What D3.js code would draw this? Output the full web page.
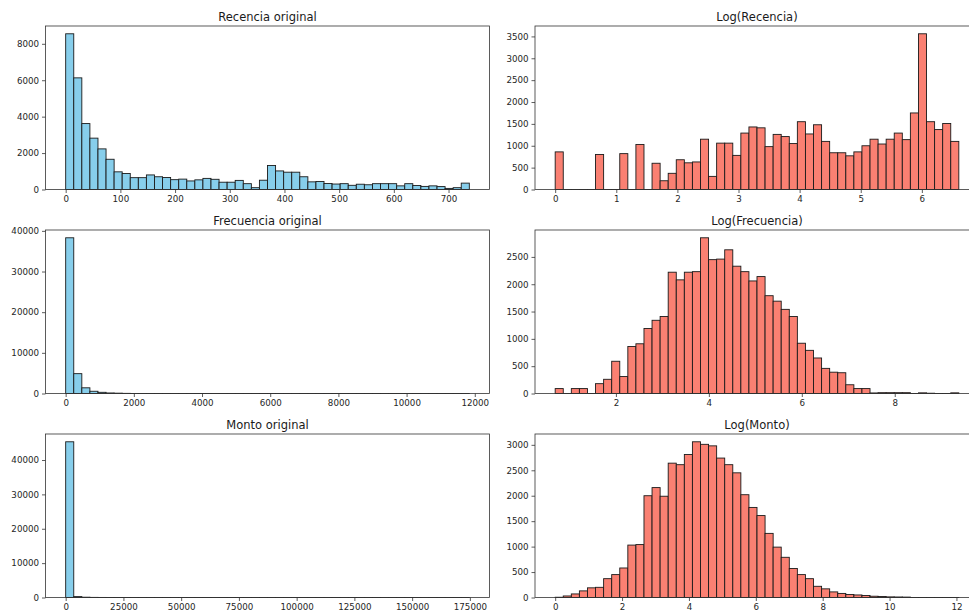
<!DOCTYPE html>
<html>
<head>
<meta charset="utf-8">
<script src="https://cdn.jsdelivr.net/npm/d3@7"></script>
<style>
  html, body { margin: 0; padding: 0; background: #fff; }
  svg { display: block; }
  text { font-family: "DejaVu Sans", sans-serif; }
</style>
</head>
<body>
<svg id="chart" width="969" height="611"></svg>
<script>
// Histogram counts (50 bins each) and the value range each histogram spans
const recenciaCounts = [8550, 6130, 3620, 2820, 2230, 1660, 970, 880, 650, 650,
  800, 700, 660, 540, 570, 470, 530, 610, 560, 400,
  400, 500, 320, 100, 510, 1320, 1020, 950, 950, 700,
  420, 440, 330, 300, 320, 230, 290, 260, 320, 320,
  320, 200, 320, 220, 170, 200, 160, 60, 100, 350];
const recenciaRange = [0, 738];

const logRecenciaCounts = [860, 0, 0, 0, 0, 800, 0, 0, 820, 0,
  1030, 0, 600, 200, 370, 680, 610, 630, 1150, 300,
  1060, 1060, 780, 1290, 1430, 1410, 980, 1260, 1210, 1050,
  1550, 1270, 1480, 1100, 840, 840, 770, 860, 1000, 1150,
  1040, 1150, 1290, 1140, 1750, 3560, 1550, 1370, 1510, 1100];
const logRecenciaRange = [0, 6.605];

const frecuenciaCounts = [38300, 4880, 1400, 550, 290, 130, 80, 35, 12, 9,
  9, 9, 9, 9, 8, 0, 0, 0, 0, 0,
  0, 3, 3, 3, 3, 1, 1, 1, 1, 1,
  0, 0, 0, 0, 0, 0, 0, 0, 0, 0,
  0, 0, 2, 1, 2, 1, 2, 1, 2, 1];
const frecuenciaRange = [1, 11840];

const logFrecuenciaCounts = [90, 0, 90, 90, 0, 180, 260, 590, 310, 860,
  910, 1190, 1340, 1410, 2220, 2080, 2220, 2230, 2850, 2450,
  2460, 2630, 2330, 2230, 2060, 2140, 1790, 1690, 1540, 1410,
  920, 790, 650, 460, 390, 380, 160, 90, 90, 10,
  15, 15, 15, 15, 0, 12, 5, 0, 0, 12];
const logFrecuenciaRange = [0.693, 9.379];

const montoCounts = [45300, 260, 86, 33, 17, 13, 6, 5, 5, 4,
  3, 3, 0, 0, 0, 0, 0, 0, 0, 0,
  0, 0, 0, 0, 0, 0, 0, 0, 0, 0,
  0, 0, 0, 0, 0, 0, 0, 0, 0, 0,
  0, 0, 0, 0, 0, 0, 0, 0, 0, 1];
const montoRange = [0, 174760];

const logMontoCounts = [5, 30, 70, 130, 190, 200, 370, 450, 580, 1030,
  1040, 2000, 2160, 1990, 2640, 2610, 2810, 3060, 3010, 2980,
  2740, 2610, 2450, 2020, 1770, 1610, 1260, 990, 790, 570,
  450, 370, 220, 170, 110, 80, 60, 50, 40, 25,
  20, 12, 10, 8, 0, 0, 0, 0, 0, 1];
const logMontoRange = [0, 12.071];

// Tick values
const recenciaXTicks = [0, 100, 200, 300, 400, 500, 600, 700];
const recenciaYTicks = [0, 2000, 4000, 6000, 8000];
const logRecenciaXTicks = [0, 1, 2, 3, 4, 5, 6];
const logRecenciaYTicks = [0, 500, 1000, 1500, 2000, 2500, 3000, 3500];
const frecuenciaXTicks = [0, 2000, 4000, 6000, 8000, 10000, 12000];
const frecuenciaYTicks = [0, 10000, 20000, 30000, 40000];
const logFrecuenciaXTicks = [2, 4, 6, 8];
const logFrecuenciaYTicks = [0, 500, 1000, 1500, 2000, 2500];
const montoXTicks = [0, 25000, 50000, 75000, 100000, 125000, 150000, 175000];
const montoYTicks = [0, 10000, 20000, 30000, 40000];
const logMontoXTicks = [0, 2, 4, 6, 8, 10, 12];
const logMontoYTicks = [0, 500, 1000, 1500, 2000, 2500, 3000];

const titles = ["Recencia original", "Log(Recencia)", "Frecuencia original",
                "Log(Frecuencia)", "Monto original", "Log(Monto)"];

const originalColor = "#87ceeb";
const logColor = "#fa8072";

const panels = [
  { title: titles[0], counts: recenciaCounts, range: recenciaRange, xt: recenciaXTicks, yt: recenciaYTicks, color: originalColor, row: 0, col: 0 },
  { title: titles[1], counts: logRecenciaCounts, range: logRecenciaRange, xt: logRecenciaXTicks, yt: logRecenciaYTicks, color: logColor, row: 0, col: 1 },
  { title: titles[2], counts: frecuenciaCounts, range: frecuenciaRange, xt: frecuenciaXTicks, yt: frecuenciaYTicks, color: originalColor, row: 1, col: 0 },
  { title: titles[3], counts: logFrecuenciaCounts, range: logFrecuenciaRange, xt: logFrecuenciaXTicks, yt: logFrecuenciaYTicks, color: logColor, row: 1, col: 1 },
  { title: titles[4], counts: montoCounts, range: montoRange, xt: montoXTicks, yt: montoYTicks, color: originalColor, row: 2, col: 0 },
  { title: titles[5], counts: logMontoCounts, range: logMontoRange, xt: logMontoXTicks, yt: logMontoYTicks, color: logColor, row: 2, col: 1 }
];

// Grid geometry
const colLeft = [45.5, 535];
const panelW = 444;
const rowTop = 26;
const rowStep = 204;
const panelH = 163.5;

const svg = d3.select("#chart");
svg.append("rect").attr("width", 969).attr("height", 611).attr("fill", "#fff");

panels.forEach(p => {
  const x0 = colLeft[p.col], y0 = rowTop + p.row * rowStep;
  const [lo, hi] = p.range;
  const span = hi - lo;
  const nb = p.counts.length;
  const binW = span / nb;

  const xs = d3.scaleLinear()
    .domain([lo - 0.05 * span, hi + 0.05 * span])
    .range([x0, x0 + panelW]);
  const ys = d3.scaleLinear()
    .domain([0, d3.max(p.counts) * 1.05])
    .range([y0 + panelH, y0]);

  const g = svg.append("g");

  g.selectAll("rect.bar")
    .data(p.counts)
    .join("rect")
    .attr("class", "bar")
    .attr("x", (d, i) => xs(lo + i * binW))
    .attr("width", (d, i) => xs(lo + (i + 1) * binW) - xs(lo + i * binW))
    .attr("y", d => ys(d))
    .attr("height", d => Math.max(ys(0) - ys(d), 0.01))
    .attr("fill", p.color)
    .attr("stroke", "#1a1a1a")
    .attr("stroke-width", 0.9);

  // axes
  const fmt = d3.format("d");
  const xAxis = g.append("g")
    .attr("transform", `translate(0,${y0 + panelH})`)
    .call(d3.axisBottom(xs).tickValues(p.xt).tickFormat(fmt).tickSize(3.5).tickSizeOuter(0).tickPadding(2.5));
  const yAxis = g.append("g")
    .attr("transform", `translate(${x0},0)`)
    .call(d3.axisLeft(ys).tickValues(p.yt).tickFormat(fmt).tickSize(3.5).tickSizeOuter(0).tickPadding(3));

  [xAxis, yAxis].forEach(a => {
    a.select(".domain").remove();
    a.selectAll(".tick line").attr("stroke", "#333").attr("stroke-width", 0.8);
    a.selectAll(".tick text")
      .attr("fill", "#262626")
      .style("font-family", "'DejaVu Sans', sans-serif")
      .style("font-size", "8.7px");
  });

  // frame
  g.append("rect")
    .attr("x", x0).attr("y", y0)
    .attr("width", panelW).attr("height", panelH)
    .attr("fill", "none")
    .attr("stroke", "#333")
    .attr("stroke-width", 0.8);

  g.append("text")
    .attr("x", x0 + panelW / 2)
    .attr("y", y0 - 5)
    .attr("text-anchor", "middle")
    .attr("fill", "#1a1a1a")
    .style("font-size", "11.5px")
    .text(p.title);
});
</script>
</body>
</html>
